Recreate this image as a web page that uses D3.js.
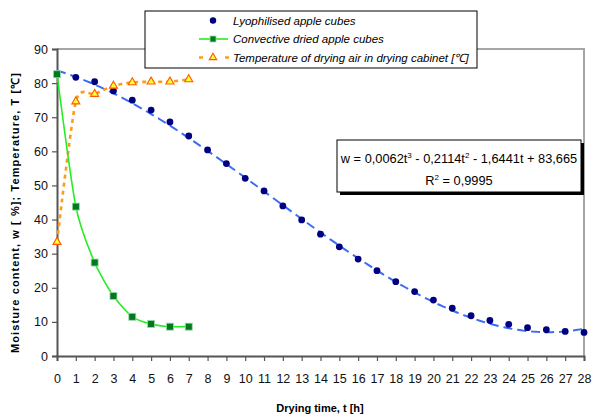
<!DOCTYPE html>
<html>
<head>
<meta charset="utf-8">
<script src="https://cdn.jsdelivr.net/npm/d3@7"></script>
<style>
  body { margin: 0; background: #fff; }
  svg { font-family: "Liberation Sans", Arial, sans-serif; }
</style>
</head>
<body>
<svg id="chart" width="592" height="417"></svg>
<script>
// drying time [h]
const timeLyo = d3.range(1, 29);
const moistureLyo = [81.7, 80.4, 77.7, 75.0, 72.1, 68.6, 64.5, 60.4, 56.4, 52.1,
  48.4, 44.0, 39.9, 35.7, 32.0, 28.4, 25.0, 21.8, 18.9, 16.4,
  14.0, 11.8, 10.4, 9.3, 8.3, 7.7, 7.2, 6.9];

const timeConv = [0, 1, 2, 3, 4, 5, 6, 7];
const moistureConv = [82.6, 43.8, 27.4, 17.6, 11.5, 9.4, 8.6, 8.6];

const timeTemp = [0, 1, 2, 3, 4, 5, 6, 7];
const tempAir = [33.4, 74.6, 76.8, 79.2, 80.2, 80.4, 80.4, 81.1];

// polynomial trendline coefficients, highest power first (from the equation label)
const trendCoef = [0.0062, -0.2114, -1.6441, 83.665];

const xTicks = d3.range(0, 29);
const yTicks = d3.range(0, 100, 10);

const svg = d3.select("#chart");
const width = +svg.attr("width");
const height = +svg.attr("height");
const margin = { top: 49, right: 8, bottom: 61, left: 57 };

const x = d3.scaleLinear().domain([0, 28]).range([margin.left, width - margin.right]);
const y = d3.scaleLinear().domain([0, 90]).range([height - margin.bottom, margin.top]);

// plot frame (top/right grey)
svg.append("path")
  .attr("d", `M${x(0)},${y(90)}H${x(28)}V${y(0)}`)
  .attr("fill", "none")
  .attr("stroke", "#a6a6a6")
  .attr("stroke-width", 2);

// axes
const xAxis = svg.append("g")
  .attr("transform", `translate(0,${y(0)})`)
  .call(d3.axisBottom(x).tickValues(xTicks).tickSize(5).tickPadding(13).tickFormat(d3.format("d")));
const yAxis = svg.append("g")
  .attr("transform", `translate(${x(0)},0)`)
  .call(d3.axisLeft(y).tickValues(yTicks).tickSize(5).tickPadding(4));

[xAxis, yAxis].forEach(a => {
  a.select(".domain").attr("stroke", "#555").attr("stroke-width", 2);
  a.selectAll(".tick line").attr("stroke", "#555").attr("stroke-width", 1.2);
  a.selectAll("text").attr("font-size", 12.5).attr("fill", "#111")
    .attr("font-family", "Liberation Sans, Arial, sans-serif");
});

// axis titles
svg.append("text")
  .attr("x", 320).attr("y", 412)
  .attr("text-anchor", "middle")
  .attr("font-size", 11).attr("font-weight", "bold")
  .text("Drying time, t [h]");

svg.append("text")
  .attr("transform", "translate(19,213) rotate(-90)")
  .attr("text-anchor", "middle")
  .attr("font-size", 11).attr("font-weight", "bold")
  .attr("textLength", 280).attr("lengthAdjust", "spacing")
  .text("Moisture content, w [ %]; Temperature, T [\u2103]");

// trendline for lyophilised cubes
const poly = t => trendCoef.reduce((acc, c) => acc * t + c, 0);
const trendPts = d3.range(0, 28.01, 0.25).map(t => [t, poly(t)]);
svg.append("path")
  .datum(trendPts)
  .attr("fill", "none")
  .attr("stroke", "#3a6cf4")
  .attr("stroke-width", 2)
  .attr("stroke-dasharray", "9,5")
  .attr("d", d3.line().x(d => x(d[0])).y(d => y(d[1])));

const smooth = d3.line().curve(d3.curveCardinal.tension(0.3)).x(d => x(d[0])).y(d => y(d[1]));

// temperature line
const tempData = timeTemp.map((t, i) => [t, tempAir[i]]);
svg.append("path")
  .datum(tempData)
  .attr("fill", "none")
  .attr("stroke", "#ff9a1a")
  .attr("stroke-width", 2.6)
  .attr("stroke-dasharray", "4,4")
  .attr("d", smooth);

// convective line
const convData = timeConv.map((t, i) => [t, moistureConv[i]]);
svg.append("path")
  .datum(convData)
  .attr("fill", "none")
  .attr("stroke", "#22ee22")
  .attr("stroke-width", 1.6)
  .attr("d", smooth);

// markers
const lyoData = timeLyo.map((t, i) => [t, moistureLyo[i]]);
svg.append("g").selectAll("circle")
  .data(lyoData)
  .enter().append("circle")
  .attr("cx", d => x(d[0]))
  .attr("cy", d => y(d[1]))
  .attr("r", 3.4)
  .attr("fill", "#000080");

svg.append("g").selectAll("rect")
  .data(convData)
  .enter().append("rect")
  .attr("x", d => x(d[0]) - 3.5)
  .attr("y", d => y(d[1]) - 3.5)
  .attr("width", 7).attr("height", 7)
  .attr("fill", "#007a1f")
  .attr("stroke", "#9fd9a8")
  .attr("stroke-width", 0.8);

const tri = d3.symbol().type(d3.symbolTriangle).size(28);
svg.append("g").selectAll("path")
  .data(tempData)
  .enter().append("path")
  .attr("transform", d => `translate(${x(d[0])},${y(d[1])})`)
  .attr("d", tri)
  .attr("fill", "#ffff33")
  .attr("stroke", "#ff5a00")
  .attr("stroke-width", 1.1);

// equation box
const eq = svg.append("g");
eq.append("rect").attr("x", 340).attr("y", 143).attr("width", 244).attr("height", 52).attr("fill", "#000");
eq.append("rect").attr("x", 337).attr("y", 140).attr("width", 244).attr("height", 52)
  .attr("fill", "#fff").attr("stroke", "#000").attr("stroke-width", 1);
const l1 = eq.append("text").attr("x", 459).attr("y", 163).attr("text-anchor", "middle").attr("font-size", 12.8);
l1.append("tspan").text("w = 0,0062t");
l1.append("tspan").attr("dy", -5).attr("font-size", 8).text("3");
l1.append("tspan").attr("dy", 5).text(" - 0,2114t");
l1.append("tspan").attr("dy", -5).attr("font-size", 8).text("2");
l1.append("tspan").attr("dy", 5).text(" - 1,6441t + 83,665");
const l2 = eq.append("text").attr("x", 459).attr("y", 185).attr("text-anchor", "middle").attr("font-size", 12.8);
l2.append("tspan").text("R");
l2.append("tspan").attr("dy", -5).attr("font-size", 8).text("2");
l2.append("tspan").attr("dy", 5).text(" = 0,9995");

// legend
const lg = svg.append("g");
lg.append("rect").attr("x", 145).attr("y", 11).attr("width", 332).attr("height", 57)
  .attr("fill", "#fff").attr("stroke", "#000").attr("stroke-width", 1);
const rows = [20.5, 39, 57.5];
const legendLabels = ["Lyophilised apple cubes", "Convective dried apple cubes",
  "Temperature of drying air in drying cabinet [\u2103]"];
lg.append("circle").attr("cx", 213).attr("cy", rows[0]).attr("r", 3.2).attr("fill", "#000080");
lg.append("line").attr("x1", 199).attr("x2", 228).attr("y1", rows[1]).attr("y2", rows[1])
  .attr("stroke", "#22ee22").attr("stroke-width", 1.6);
lg.append("rect").attr("x", 210).attr("y", rows[1] - 3).attr("width", 6).attr("height", 6)
  .attr("fill", "#007a1f").attr("stroke", "#9fd9a8").attr("stroke-width", 0.8);
lg.append("line").attr("x1", 199).attr("x2", 229).attr("y1", rows[2]).attr("y2", rows[2])
  .attr("stroke", "#ff9a1a").attr("stroke-width", 2.6).attr("stroke-dasharray", "4,22");
lg.append("path").attr("transform", `translate(213,${rows[2]})`).attr("d", d3.symbol().type(d3.symbolTriangle).size(24))
  .attr("fill", "#ffff33").attr("stroke", "#ff5a00").attr("stroke-width", 1.1);
lg.selectAll("text.lbl")
  .data(legendLabels)
  .enter().append("text")
  .attr("class", "lbl")
  .attr("x", 233)
  .attr("y", (d, i) => rows[i] + 4)
  .attr("font-size", 11.5)
  .attr("font-style", "italic")
  .text(d => d);
</script>
</body>
</html>
